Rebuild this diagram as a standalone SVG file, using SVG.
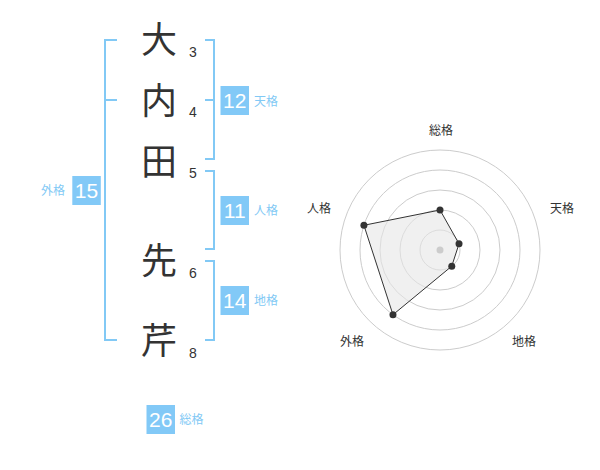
<svg xmlns="http://www.w3.org/2000/svg" width="600" height="470" viewBox="0 0 600 470">
<style>
.kanji{font-family:"Noto Sans CJK JP","Noto Sans CJK SC",sans-serif;font-size:36px;fill:#333;text-anchor:middle}
.stroke{font-family:"Liberation Sans",Arial,sans-serif;font-size:14px;fill:#333}
.br{fill:none;stroke:#82c9f5;stroke-width:2}
.box{fill:#82c9f7}
.num{font-family:"Liberation Sans",Arial,sans-serif;font-size:21px;fill:#fff;text-anchor:middle}
.lbl{font-family:"Noto Sans CJK JP","Noto Sans CJK SC",sans-serif;font-size:12px;fill:#82c9f5}
.ring{fill:none;stroke:#ccc;stroke-width:1}
.rl{font-family:"Noto Sans CJK JP","Noto Sans CJK SC",sans-serif;font-size:12px;fill:#333;text-anchor:middle}
.pt{fill:#333}
</style>
<rect width="600" height="470" fill="#fff"/>
<g id="name">
<text class="kanji" x="159" y="53">大</text>
<text class="kanji" x="159" y="114">内</text>
<text class="kanji" x="159" y="175">田</text>
<text class="kanji" x="159" y="274">先</text>
<text class="kanji" x="159" y="354">芹</text>
<text class="stroke" x="189" y="57">3</text>
<text class="stroke" x="189" y="117">4</text>
<text class="stroke" x="189" y="178">5</text>
<text class="stroke" x="189" y="278">6</text>
<text class="stroke" x="189" y="358">8</text>
</g>
<g id="connectors">
<path class="br" d="M117,40 H105 V340 H117 M105,100 H117"/>
<path class="br" d="M205,40 H214 V159 H205 M214,100 H205"/>
<path class="br" d="M205,171 H214 V249 H205"/>
<path class="br" d="M205,261 H214 V340 H205"/>
</g>
<g id="tenkaku">
<rect class="box" x="220.5" y="86" width="28.5" height="29"/>
<text class="num" x="234.7" y="108">12</text>
<text class="lbl" x="254" y="105.5">天格</text>
</g>
<g id="jinkaku">
<rect class="box" x="220.5" y="196" width="28.5" height="29"/>
<text class="num" x="234.7" y="218">11</text>
<text class="lbl" x="254" y="215">人格</text>
</g>
<g id="chikaku">
<rect class="box" x="220.5" y="286" width="28.5" height="29"/>
<text class="num" x="234.7" y="308">14</text>
<text class="lbl" x="254" y="305">地格</text>
</g>
<g id="gaikaku">
<rect class="box" x="72.3" y="176" width="28.5" height="29"/>
<text class="num" x="86.5" y="198">15</text>
<text class="lbl" x="41" y="195">外格</text>
</g>
<g id="soukaku">
<rect class="box" x="146.5" y="405" width="28.5" height="29"/>
<text class="num" x="160.7" y="427">26</text>
<text class="lbl" x="179.5" y="424">総格</text>
</g>
<g id="radar">
<circle class="ring" cx="440" cy="250" r="20"/>
<circle class="ring" cx="440" cy="250" r="40"/>
<circle class="ring" cx="440" cy="250" r="60"/>
<circle class="ring" cx="440" cy="250" r="80"/>
<circle class="ring" cx="440" cy="250" r="100"/>
<polygon points="440,210 459.02,243.82 451.76,266.18 392.98,314.72 363.92,225.28" fill="#e6e6e6" fill-opacity="0.6" stroke="#333" stroke-width="1"/>
<circle cx="440" cy="250" r="3.5" fill="#ccc"/>
<circle class="pt" cx="440" cy="210" r="3.5"/>
<circle class="pt" cx="459.02" cy="243.82" r="3.5"/>
<circle class="pt" cx="451.76" cy="266.18" r="3.5"/>
<circle class="pt" cx="392.98" cy="314.72" r="3.5"/>
<circle class="pt" cx="363.92" cy="225.28" r="3.5"/>
<text class="rl" x="441" y="135">総格</text>
<text class="rl" x="562" y="213">天格</text>
<text class="rl" x="524" y="346">地格</text>
<text class="rl" x="352" y="346">外格</text>
<text class="rl" x="319" y="213">人格</text>
</g>
</svg>
